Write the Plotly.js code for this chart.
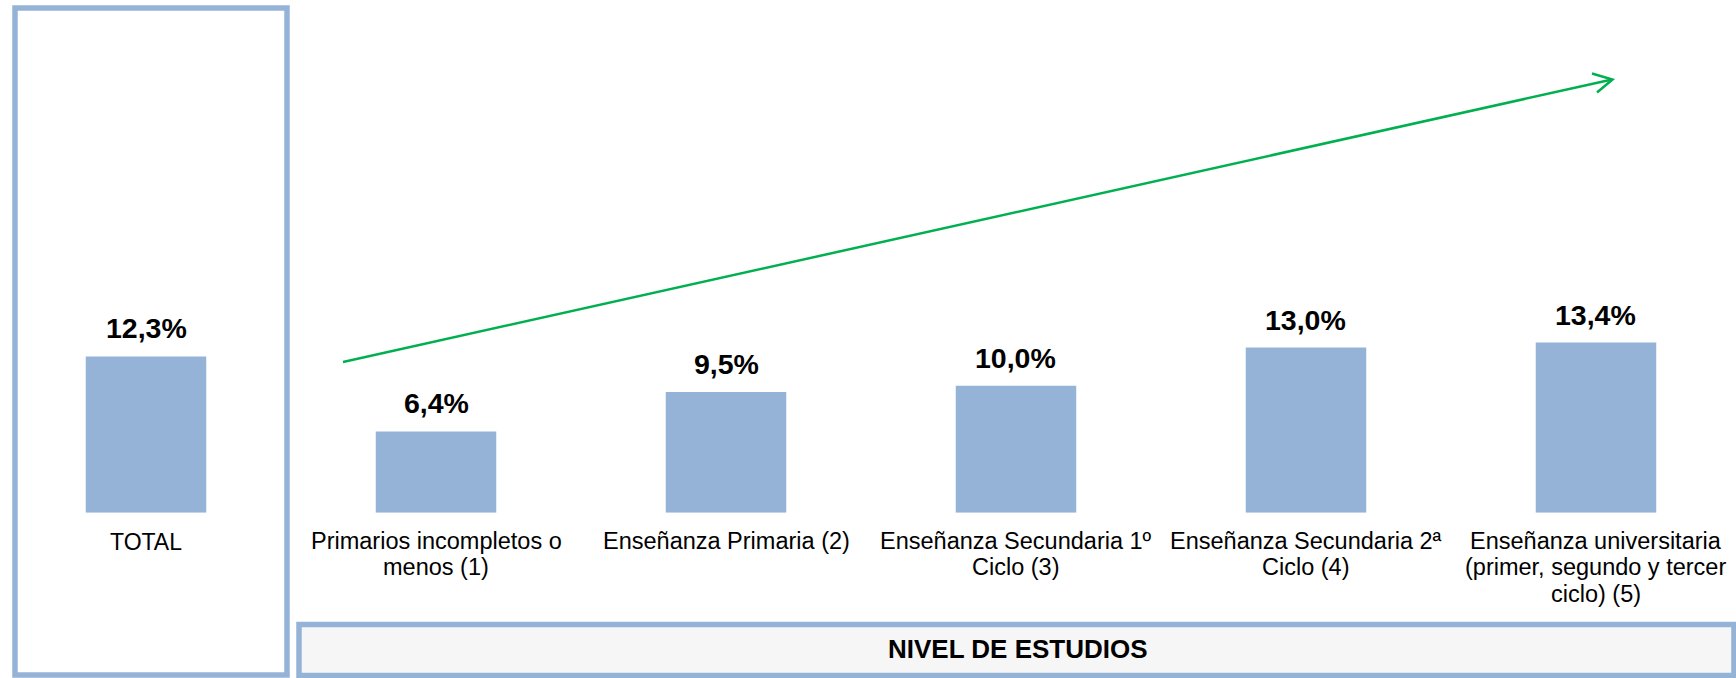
<!DOCTYPE html>
<html>
<head>
<meta charset="utf-8">
<script src="https://cdn.plot.ly/plotly-3.0.1.min.js"></script>
<style>
  html, body { margin: 0; padding: 0; background: #ffffff; }
  #chart { width: 1736px; height: 678px; }
</style>
</head>
<body>
<div id="chart"></div>
<script>
// ---- Data ----
const totalCategory = ['TOTAL'];
const totalValues = [12.3];

const categoryLines = [
  ['Primarios incompletos o', 'menos (1)'],
  ['Enseñanza Primaria (2)'],
  ['Enseñanza Secundaria 1º', 'Ciclo (3)'],
  ['Enseñanza Secundaria 2ª', 'Ciclo (4)'],
  ['Enseñanza universitaria', '(primer, segundo y tercer', 'ciclo) (5)']
];
const categories = categoryLines.map(l => l.join(' '));
const values = [6.4, 9.5, 10.0, 13.0, 13.4];

const sectionTitle = 'NIVEL DE ESTUDIOS';

// ---- Layout helpers ----
const W = 1736, H = 678;
const px = x => x / W;            // pixel x -> paper
const py = y => (H - y) / H;      // pixel y (from top) -> paper

const BAR_COLOR = '#95b3d7';
const BORDER_COLOR = '#95b3d7';
const ARROW_COLOR = '#00b050';
const FONT = '"Liberation Sans", Arial, sans-serif';
const fmt = v => v.toFixed(1).replace('.', ',') + '%';

const yBottomPx = 512.7;
const yDomain = [py(yBottomPx), 1];
const yRange = [0, yBottomPx / 12.7];

const traces = [
  {
    type: 'bar', x: totalCategory, y: totalValues,
    xaxis: 'x2', yaxis: 'y2',
    marker: { color: BAR_COLOR, line: { width: 0 } },
    hoverinfo: 'skip', showlegend: false
  },
  {
    type: 'bar', x: categories, y: values,
    xaxis: 'x', yaxis: 'y',
    marker: { color: BAR_COLOR, line: { width: 0 } },
    hoverinfo: 'skip', showlegend: false
  }
];

const annotations = [];
// value labels
totalCategory.forEach((c, i) => annotations.push({
  xref: 'x2', yref: 'y2', x: c, y: totalValues[i], yanchor: 'bottom', yshift: 10,
  text: '<b>' + fmt(totalValues[i]) + '</b>', showarrow: false,
  font: { family: FONT, size: 28.5, color: '#000000' }
}));
categories.forEach((c, i) => annotations.push({
  xref: 'x', yref: 'y', x: c, y: values[i], yanchor: 'bottom', yshift: 10,
  text: '<b>' + fmt(values[i]) + '</b>', showarrow: false,
  font: { family: FONT, size: 28.5, color: '#000000' }
}));
// category labels
totalCategory.forEach(c => annotations.push({
  xref: 'x2', yref: 'paper', x: c, y: yDomain[0], yanchor: 'top', yshift: -14,
  text: c, showarrow: false,
  font: { family: FONT, size: 23, color: '#000000' }
}));
categoryLines.forEach((lines, i) => lines.forEach((ln, j) => annotations.push({
  xref: 'x', yref: 'paper', x: categories[i], y: yDomain[0], yanchor: 'top',
  yshift: -13 - 26.5 * j,
  text: ln, showarrow: false,
  font: { family: FONT, size: 23.5, color: '#000000' }
})));
// section title
annotations.push({
  xref: 'paper', yref: 'paper', x: px(1017.5), y: py(649), xanchor: 'center', yanchor: 'middle',
  text: '<b>' + sectionTitle + '</b>', showarrow: false,
  font: { family: FONT, size: 26, color: '#000000' }
});

const shapes = [
  // left (TOTAL) frame
  { type: 'rect', xref: 'paper', yref: 'paper', x0: px(15), x1: px(287), y0: py(675), y1: py(8),
    line: { color: BORDER_COLOR, width: 5.5 }, fillcolor: 'rgba(0,0,0,0)', layer: 'below' },
  // bottom title box
  { type: 'rect', xref: 'paper', yref: 'paper', x0: px(299), x1: px(1734), y0: py(675.5), y1: py(624.5),
    line: { color: BORDER_COLOR, width: 5.5 }, fillcolor: '#f6f6f6', layer: 'below' },
  // trend arrow
  { type: 'line', xref: 'paper', yref: 'paper', x0: px(343), y0: py(362), x1: px(1612), y1: py(79.5),
    line: { color: ARROW_COLOR, width: 2.5 } },
  { type: 'path', xref: 'paper', yref: 'paper',
    path: `M ${px(1592)} ${py(73.5)} L ${px(1612.5)} ${py(79.5)} L ${px(1597)} ${py(92.5)}`,
    line: { color: ARROW_COLOR, width: 2.5 } }
];

const axisHidden = { showgrid: false, zeroline: false, showline: false, showticklabels: false, ticks: '', fixedrange: true };

const layout = {
  width: W, height: H,
  margin: { l: 0, r: 0, t: 0, b: 0, pad: 0 },
  paper_bgcolor: '#ffffff', plot_bgcolor: 'rgba(0,0,0,0)',
  bargap: 0.5845,
  showlegend: false,
  xaxis: Object.assign({ domain: [px(291), 1], range: [-0.5, 4.4828], type: 'category' }, axisHidden),
  yaxis: Object.assign({ domain: yDomain, range: yRange }, axisHidden),
  xaxis2: Object.assign({ domain: [px(1), px(291)], range: [-0.5, 0.5], type: 'category', anchor: 'y2' }, axisHidden),
  yaxis2: Object.assign({ domain: yDomain, range: yRange, anchor: 'x2' }, axisHidden),
  annotations: annotations,
  shapes: shapes,
  font: { family: FONT }
};

Plotly.newPlot('chart', traces, layout, { staticPlot: true, displayModeBar: false });
</script>
</body>
</html>
